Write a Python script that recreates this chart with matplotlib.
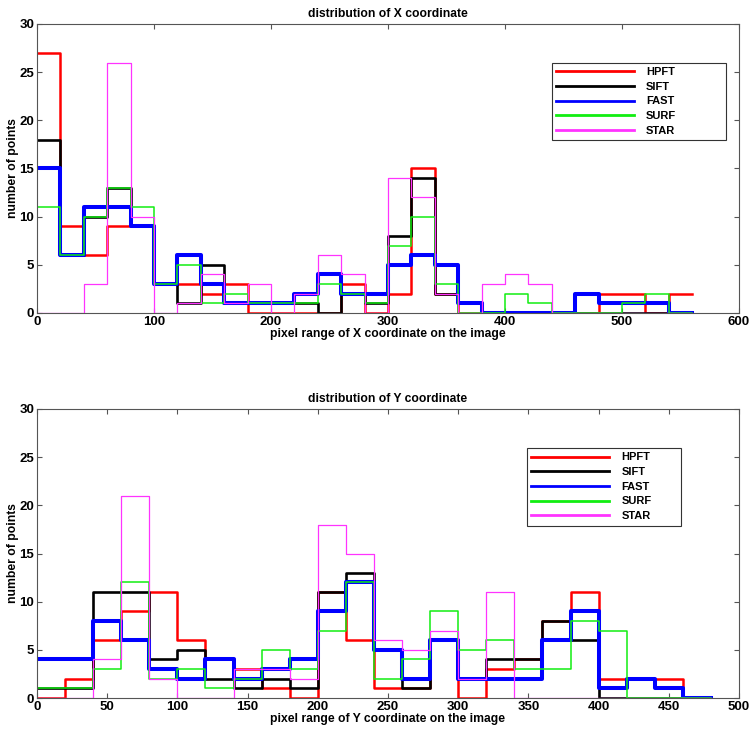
import numpy as np
from matplotlib import pyplot as plt

plt.rcParams['font.family'] = ['Liberation Sans', 'DejaVu Sans']
plt.rcParams['font.weight'] = 'bold'
plt.rcParams['font.size'] = 8

names = ['HPFT', 'SIFT', 'FAST', 'SURF', 'STAR']
colors = ['#ff0000', '#000000', '#0000ff', '#11ee11', '#ff33ff']
widths = [1.8, 1.9, 2.9, 1.1, 0.9]

# X coordinate histograms, bins of 20 px from 0 to 560
x_edges = np.arange(0, 561, 20)
hpft_x = [27, 9, 6, 9, 9, 3, 3, 2, 3, 0, 0, 0, 0, 3, 0, 2, 15, 2, 0, 0, 0, 0, 0, 0, 2, 2, 0, 2]
sift_x = [18, 6, 10, 13, 9, 3, 1, 5, 1, 1, 1, 1, 0, 2, 1, 8, 14, 2, 1, 0, 0, 0, 0, 0, 0, 0, 0, 0]
fast_x = [15, 6, 11, 11, 9, 3, 6, 3, 1, 1, 1, 2, 4, 2, 2, 5, 6, 5, 1, 0, 0, 0, 0, 2, 1, 1, 1, 0]
surf_x = [11, 6, 10, 13, 11, 3, 5, 1, 2, 1, 1, 1, 3, 2, 1, 7, 10, 3, 0, 0, 2, 1, 0, 0, 0, 1, 2, 0]
star_x = [0, 0, 3, 26, 10, 0, 1, 4, 1, 3, 0, 2, 6, 4, 0, 14, 12, 2, 0, 3, 4, 3, 0, 0, 0, 0, 0, 0]

# Y coordinate histograms, bins of 20 px from 0 to 480
y_edges = np.arange(0, 481, 20)
hpft_y = [0, 2, 6, 9, 11, 6, 4, 3, 1, 0, 11, 6, 1, 1, 6, 0, 3, 4, 8, 11, 2, 2, 2, 0]
sift_y = [1, 1, 11, 11, 4, 5, 2, 1, 2, 1, 11, 13, 5, 1, 6, 2, 4, 4, 8, 6, 0, 0, 0, 0]
fast_y = [4, 4, 8, 6, 3, 2, 4, 2, 3, 4, 9, 12, 5, 2, 6, 2, 2, 2, 6, 9, 1, 2, 1, 0]
surf_y = [1, 1, 3, 12, 2, 3, 1, 2, 5, 3, 7, 12, 2, 4, 9, 5, 6, 3, 3, 8, 7, 0, 0, 0]
star_y = [0, 0, 4, 21, 2, 0, 0, 3, 3, 2, 18, 15, 6, 5, 7, 2, 11, 0, 0, 0, 0, 0, 0, 0]

fig = plt.figure(figsize=(7.52, 7.38), dpi=100)
ax1 = fig.add_axes([0.0492, 0.5759, 0.9335, 0.3916])
ax2 = fig.add_axes([0.0492, 0.0542, 0.9335, 0.3916])


def draw(ax, edges, series, title, xlabel, xmax, xstep, legbox):
    for vals, name, c, lw in zip(series, names, colors, widths):
        v = list(vals) + [vals[-1]]
        ax.step(edges, v, where='post', color=c, lw=lw, label=name)
    ax.set_xlim(0, xmax)
    ax.set_ylim(0, 30)
    ax.set_xticks(np.arange(0, xmax + 1, xstep))
    ax.set_yticks(np.arange(0, 31, 5))
    ax.tick_params(direction='in', top=True, right=True, length=3.6,
                   width=0.8, color='#555555', labelsize=9.5, pad=2)
    for s in ax.spines.values():
        s.set_color('#555555')
        s.set_linewidth(0.8)
    ax.set_title(title, fontsize=8.7, fontweight='bold', pad=5)
    ax.set_xlabel(xlabel, fontsize=8.7, fontweight='bold', labelpad=0)
    ax.set_ylabel('number of points', fontsize=8.7, fontweight='bold', labelpad=0)
    leg = ax.legend(loc='upper left', bbox_to_anchor=legbox, mode='expand',
                    fancybox=False, edgecolor='#333333', framealpha=1,
                    handlelength=7.0, handletextpad=1.1, labelspacing=0.42,
                    borderpad=0.4, borderaxespad=0)
    leg.get_frame().set_linewidth(0.8)
    for h in leg.get_lines():
        h.set_linewidth(2.0)


draw(ax1, x_edges, [hpft_x, sift_x, fast_x, surf_x, star_x],
     'distribution of X coordinate', 'pixel range of X coordinate on the image',
     600, 100, (0.733, 0.6, 0.249, 0.266))
draw(ax2, y_edges, [hpft_y, sift_y, fast_y, surf_y, star_y],
     'distribution of Y coordinate', 'pixel range of Y coordinate on the image',
     500, 50, (0.698, 0.596, 0.220, 0.269))

plt.savefig('out.png', dpi=100)
